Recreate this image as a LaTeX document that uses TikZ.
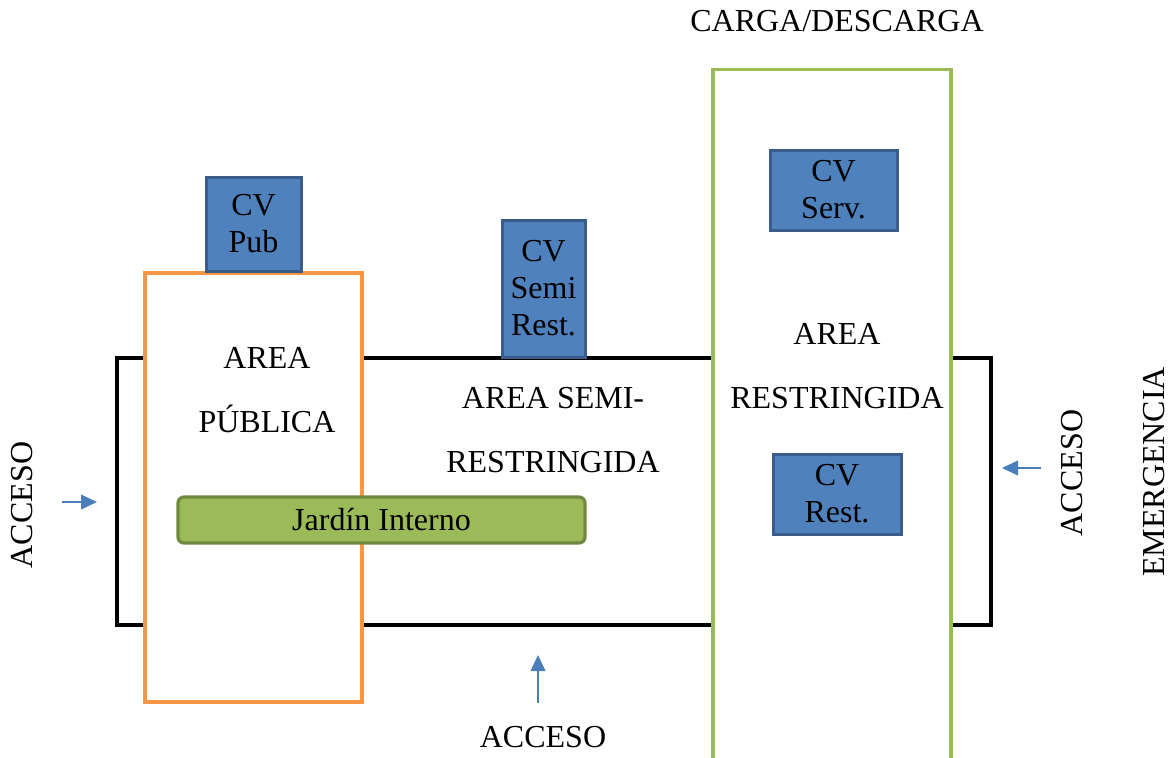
\documentclass[tikz,border=0pt]{standalone}
\usepackage{fontspec}
\setmainfont{Liberation Serif}
\usetikzlibrary{arrows.meta}
\definecolor{cvfill}{HTML}{4F81BD}
\definecolor{cvline}{HTML}{385D8A}
\definecolor{leaf}{HTML}{9BBB59}
\definecolor{leafdark}{HTML}{71893F}
\definecolor{zoneorange}{HTML}{F79646}
\definecolor{accblue}{HTML}{4A7EBB}
\tikzset{
  zone/.style={draw, fill=white, inner sep=0pt},
  cvbox/.style={draw=cvline, fill=cvfill, line width=2.25pt, inner sep=0pt,
    align=center, font=\fontsize{24}{27.75}\selectfont},
  label/.style={align=center, inner sep=0pt, font=\fontsize{24}{27.75}\selectfont},
  arealabel/.style={align=center, inner sep=0pt, font=\fontsize{24}{47.5}\selectfont},
  access/.style={draw=accblue, line width=1.3pt, -{Triangle[length=12pt,width=11pt]}}
}
\begin{document}
\begin{tikzpicture}[x=0.75pt,y=-0.75pt]
\useasboundingbox (0,0) rectangle (1170,757);

% building outline
\node[zone, draw=black, line width=3pt, minimum width=655.5pt, minimum height=200.25pt] (main) at (554,491.5) {};
% public zone
\node[zone, draw=zoneorange, line width=2.4pt, minimum width=162.75pt, minimum height=321.75pt] (pub) at (253.5,487.5) {};
% restricted zone (runs past the lower edge of the page)
\node[zone, draw=leaf, line width=2.6pt, minimum width=178.5pt, minimum height=522pt] (restr) at (832,417.5) {};

% changing rooms
\node[cvbox, minimum width=71.25pt, minimum height=70.5pt] (cvpub) at (253.5,224) {\raisebox{-3pt}{CV}\\\raisebox{-3pt}{Pub}};
\node[cvbox, minimum width=62.25pt, minimum height=102.75pt] (cvsemi) at (543.5,288.5) {CV\\Semi\\Rest.};
\node[cvbox, minimum width=95.25pt, minimum height=60pt] (cvserv) at (833.5,190) {CV\\Serv.};
\node[cvbox, minimum width=96pt, minimum height=60pt] (cvrest) at (837,494) {\raisebox{-2.5pt}{CV}\\\raisebox{-2.5pt}{Rest.}};

% inner garden
\node[draw=leafdark, fill=leaf, line width=2.4pt, rounded corners=4.5pt,
  minimum width=305.25pt, minimum height=34.5pt, inner sep=0pt,
  font=\fontsize{24}{27.75}\selectfont] (garden) at (381.5,520) {\raisebox{-2pt}{Jardín Interno}};

% zone names
\node[arealabel] (tpub) at (267,390) {AREA\\PÚBLICA};
\node[arealabel] (tsemi) at (553,430) {AREA SEMI-\\RESTRINGIDA};
\node[arealabel] (trestr) at (837,366) {AREA\\RESTRINGIDA};
\node[label] (tcarga) at (837,21) {CARGA/DESCARGA};

% accesses
\node[label] (accbottom) at (543,737) {ACCESO};
\node[label, rotate=90] (accleft) at (22,505) {ACCESO};
\node[label, rotate=90] (accright) at (1072,473) {ACCESO};
\node[label, rotate=90] (emerg) at (1154,472) {EMERGENCIA};

\coordinate (la) at (62,502);  \coordinate (lb) at (97,502);
\coordinate (ra) at (1041,468); \coordinate (rb) at (1002,468);
\coordinate (ba) at (538,703); \coordinate (bb) at (538,655);
\draw[access] (la) -- (lb);
\draw[access] (ra) -- (rb);
\draw[access] (ba) -- (bb);
\end{tikzpicture}
\end{document}
